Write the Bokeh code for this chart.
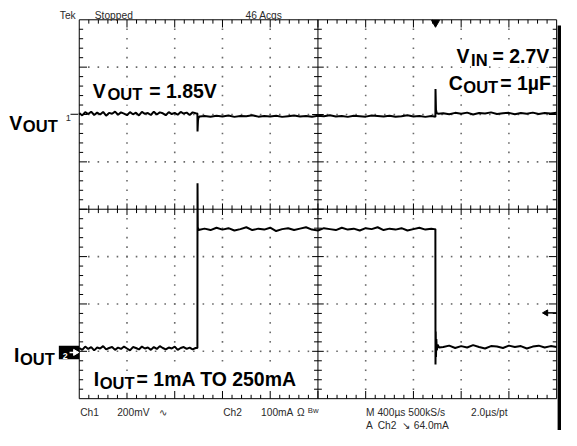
import numpy as np
from bokeh.plotting import figure
from bokeh.models import Range1d, Label
from bokeh.embed import file_html
from bokeh.resources import INLINE

# ---------------- data ----------------
# time in microseconds from the left edge of the screen (400 us/div, 10 div)
vout_t = ([0, 25, 50, 75, 100, 125, 150, 175, 200, 225, 250, 275, 300, 325, 350, 375,
           400, 425, 450, 475, 500, 525, 550, 575, 600, 625, 650, 675, 700, 725, 750,
           775, 800, 825, 850, 875, 900, 925, 950, 975]
          + [985, 990, 991, 995, 1000, 1010]
          + [1050, 1100, 1150, 1200, 1250, 1300, 1350, 1400, 1450, 1500, 1550, 1600, 1650,
             1700, 1750, 1800, 1850, 1900, 1950, 2000, 2050, 2100, 2150, 2200, 2250, 2300,
             2350, 2400, 2450, 2500, 2550, 2600, 2650, 2700, 2750, 2800, 2850, 2900, 2950]
          + [2975, 2984, 2985, 2989, 2995, 3010]
          + [3050, 3100, 3150, 3200, 3250, 3300, 3350, 3400, 3450, 3500, 3550, 3600, 3650,
             3700, 3750, 3800, 3850, 3900, 3950, 4000])
# VOUT (AC coupled, 1.85 V level) deviation in mV
vout_mv = ([6, -4, 10, 2, 12, -2, 8, 0, 11, -5, 7, 3, 12, -1, 9, 4, -3, 10, 1, 8, -4, 11,
            3, 6, -2, 12, 0, 9, 5, -3, 10, 2, 7, -1, 11, 4, 8, -2, 9, 5]
           + [4, 4, -72, -24, -12, -8]
           + [-6, -9, -5, -8, -4, -10, -6, -7, -3, -9, -6, -8, -5, -10, -7, -4, -8, -6, -9,
              -5, -7, -3, -8, -6, -10, -5, -7, -9, -4, -6, -8, -5, -9, -7, -3, -8, -6, -10, -6]
           + [-8, -10, 108, 20, 6, 3]
           + [5, 1, 7, 3, 8, 0, 6, 4, 9, 2, 5, 7, 1, 6, 3, 8, 2, 6, 4, 7])

iout_t = ([0, 25, 50, 75, 100, 125, 150, 175, 200, 225, 250, 275, 300, 325, 350, 375,
           400, 425, 450, 475, 500, 525, 550, 575, 600, 625, 650, 675, 700, 725, 750,
           775, 800, 825, 850, 875, 900, 925, 950, 975]
          + [985, 990, 991, 993, 1000]
          + [1050, 1100, 1150, 1200, 1250, 1300, 1350, 1400, 1450, 1500, 1550, 1600, 1650,
             1700, 1750, 1800, 1850, 1900, 1950, 2000, 2050, 2100, 2150, 2200, 2250, 2300,
             2350, 2400, 2450, 2500, 2550, 2600, 2650, 2700, 2750, 2800, 2850, 2900, 2950]
          + [2975, 2984, 2985, 2987, 2989, 2992, 2996, 3003, 3015]
          + [3050, 3100, 3150, 3200, 3250, 3300, 3350, 3400, 3450, 3500, 3550, 3600, 3650,
             3700, 3750, 3800, 3850, 3900, 3950, 4000])
# IOUT in mA
iout_ma = ([7, 3, 10, 5, 9, 2, 8, 6, 11, 4, 7, 9, 3, 8, 5, 10, 6, 2, 9, 7, 4, 10, 6, 8,
            3, 9, 5, 11, 7, 4, 8, 6, 10, 3, 7, 9, 5, 8, 4, 7]
           + [7, 7, 355, 262, 256]
           + [259, 256, 261, 257, 260, 255, 258, 262, 256, 259, 257, 261, 254, 258, 260, 256,
              259, 262, 257, 255, 260, 258, 256, 261, 257, 259, 255, 260, 258, 262, 256, 259,
              257, 260, 255, 258, 261, 257, 259]
           + [258, 258, -28, 42, -12, 26, 2, 14, 8]
           + [9, 12, 7, 11, 8, 13, 9, 6, 11, 10, 7, 12, 9, 11, 6, 10, 12, 8, 11, 9])

trigger_t = 2985          # us, trigger point (falling edge of IOUT)
CH1_POS, CH1_SCALE = 2.0, 200.0    # div, mV/div
CH2_POS, CH2_SCALE = -3.0, 100.0   # div, mA/div
TIME_DIV, NDIV_X, NDIV_Y = 400.0, 10, 8

readout_top = ["Tek", "Stopped", "46 Acqs"]
readout_bot1 = ["Ch1", "200mV", "\u223f", "Ch2", "100mA", "\u03a9"]
readout_bot2 = ["M 400\u00b5s 500kS/s", "2.0\u00b5s/pt"]
readout_bot3 = ["A", "Ch2", "\u2198", "64.0mA"]

# ---------------- layout ----------------
# positions below are given in reference-picture pixels (577 x 446), the whole
# picture is mapped onto the 561 x 430 canvas.
W, H = 561, 430
RW, RH = 577.0, 446.0
GL, GR, GT, GB = 81.0, 572.0, 20.0, 413.0     # graticule edges in the reference
XMAX = TIME_DIV * NDIV_X
SC = W / RW


def X(ix):
    return (ix - GL) / (GR - GL) * XMAX


def Y(iy):
    return NDIV_Y / 2 - (iy - GT) / (GB - GT) * NDIV_Y


def dx(px):
    return px / (GR - GL) * XMAX


def dy(px):
    return px / (GB - GT) * NDIV_Y


def fs(px):
    return f"{px * SC:.2f}px"


p = figure(width=W, height=H, x_range=Range1d(X(0), X(RW)), y_range=Range1d(Y(RH), Y(0)),
           min_border=0, toolbar_location=None, output_backend="svg",
           x_axis_type=None, y_axis_type=None)
p.grid.visible = False
p.outline_line_color = None
p.background_fill_color = "white"
p.border_fill_color = "white"

top, bot = NDIV_Y / 2, -NDIV_Y / 2

# dotted graticule
dxs, dys = [], []
for k in range(1, NDIV_X):
    if k == NDIV_X // 2:
        continue
    for j in range(1, NDIV_Y * 5):
        if j == NDIV_Y * 5 // 2:
            continue
        dxs.append(k * TIME_DIV)
        dys.append(bot + j * 0.2)
for j in range(1, NDIV_Y):
    if j == NDIV_Y // 2:
        continue
    for m in range(1, NDIV_X * 5):
        if m == NDIV_X * 5 // 2:
            continue
        dxs.append(m * TIME_DIV / 5)
        dys.append(bot + j)
p.scatter(dxs, dys, marker="square", size=1.6, fill_color="#6a6a6a", line_color=None)

# border and centre axes
p.quad(left=[0], right=[XMAX], bottom=[bot], top=[top], fill_color=None,
       line_color="black", line_width=1)
p.segment(x0=[0, XMAX / 2], y0=[0, bot], x1=[XMAX, XMAX / 2], y1=[0, top],
          line_color="black", line_width=1)

x0s, y0s, x1s, y1s = [], [], [], []
for m in range(1, NDIV_X * 5):
    xm = m * TIME_DIV / 5
    L = 8 if m % 5 == 0 else 4
    c = 6 if m % 5 == 0 else 4
    x0s += [xm, xm, xm]
    x1s += [xm, xm, xm]
    y0s += [top, bot, -dy(c)]
    y1s += [top - dy(L), bot + dy(L), dy(c)]
for j in range(1, NDIV_Y * 5):
    yj = bot + j * 0.2
    L = 8 if j % 5 == 0 else 4
    c = 6 if j % 5 == 0 else 4
    y0s += [yj, yj, yj]
    y1s += [yj, yj, yj]
    x0s += [0, XMAX, XMAX / 2 - dx(c)]
    x1s += [dx(L), XMAX - dx(L), XMAX / 2 + dx(c)]
p.segment(x0=x0s, y0=y0s, x1=x1s, y1=y1s, line_color="black", line_width=1)

# traces
v_y = [CH1_POS + v / CH1_SCALE for v in vout_mv]
i_y = [CH2_POS + i / CH2_SCALE for i in iout_ma]
p.line(vout_t, v_y, line_color="black", line_width=2.0)
p.line(iout_t, i_y, line_color="black", line_width=2.0)

# trigger position marker and trigger level arrow
p.scatter([trigger_t], [top - dy(3)], marker="inverted_triangle", size=8,
          fill_color="black", line_color="black")
p.segment(x0=[X(562)], y0=[Y(324)], x1=[X(572)], y1=[Y(324)], line_color="black", line_width=1.5)
p.scatter([X(561)], [Y(324)], marker="triangle", angle=np.pi / 2, size=6,
          fill_color="black", line_color="black")

# right-hand black bar
p.quad(left=[X(573)], right=[X(RW)], bottom=[Y(RH)], top=[Y(26)], fill_color="black", line_color=None)

# channel markers
p.segment(x0=[X(72)], y0=[Y(118)], x1=[X(80)], y1=[Y(118)], line_color="black", line_width=1)
p.quad(left=[X(60)], right=[X(81)], bottom=[Y(372)], top=[Y(358)], fill_color="black", line_color=None)
p.segment(x0=[X(71)], y0=[Y(365)], x1=[X(76)], y1=[Y(365)], line_color="white", line_width=1.5)
p.scatter([X(77)], [Y(365)], marker="triangle", angle=-np.pi / 2, size=6,
          fill_color="white", line_color="white")


def lab(text, ix, iy, size, bold=False, color="black", bg=None, font="Liberation Sans"):
    p.add_layout(Label(x=X(ix), y=Y(iy), text=text, text_font=font, text_font_size=fs(size),
                       text_font_style="bold" if bold else "normal", text_color=color,
                       text_baseline="alphabetic", text_align="left",
                       background_fill_color=bg))


RC = "#2a2a2a"
RS = 10.5
lab("1", 67, 122, 9.5, color=RC)
lab("2", 64, 369, 9, bold=True, color="white")

# scope readouts
for t, ix in zip(readout_top, [61, 97, 252]):
    lab(t, ix, 16, RS, color=RC)
for t, ix in zip(readout_bot1, [82, 120, 163, 229, 268, 305]):
    lab(t, ix, 427, RS, color=RC)
lab("Bw", 316, 425, 8, color=RC)
for t, ix in zip(readout_bot2, [376, 484]):
    lab(t, ix, 427, RS, color=RC)
for t, ix in zip(readout_bot3, [376, 388, 413, 425]):
    lab(t, ix, 441, RS, color=RC)

# annotations
BIG, SUB = 20, 17
lab("V", 95, 94, BIG, True, bg="white")
lab("OUT", 110, 98, SUB, True, bg="white")
lab("= 1.85V", 153, 94, BIG, True, bg="white")

lab("V", 469, 58, BIG, True, bg="white")
lab("IN", 484, 62, SUB, True, bg="white")
lab("= 2.7V", 506, 58, BIG, True, bg="white")

lab("C", 461, 86, BIG, True, bg="white")
lab("OUT", 476, 90, SUB, True, bg="white")
lab("= 1\u00b5F", 514, 86, BIG, True, bg="white")

lab("V", 9, 127, BIG, True)
lab("OUT", 23, 131, SUB, True)
lab("I", 14, 368, BIG, True)
lab("OUT", 20, 372, SUB, True)

lab("I", 96, 393, BIG, True, bg="white")
lab("OUT", 102, 397, SUB, True, bg="white")
lab("= 1mA TO 250mA", 140, 393, BIG, True, bg="white")

open("out.html", "w").write(file_html(p, INLINE))
